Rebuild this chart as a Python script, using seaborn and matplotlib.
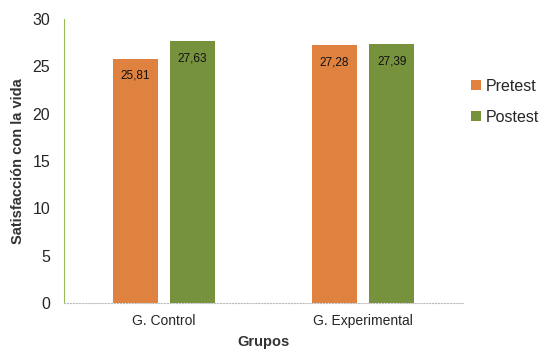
import pandas as pd
import numpy as np
import matplotlib
matplotlib.use('Agg')
import matplotlib.pyplot as plt
import seaborn as sns

grupos = ['G. Control', 'G. Experimental']
momentos = ['Pretest', 'Postest']
pretest = [25.81, 27.28]
postest = [27.63, 27.39]

df = pd.DataFrame({
    'Grupos': grupos * 2,
    'Momento': ['Pretest'] * 2 + ['Postest'] * 2,
    'valor': pretest + postest,
})

sns.set_style('white')
plt.rcParams['font.family'] = ['Liberation Sans', 'DejaVu Sans']

colores = {'Pretest': '#E0823F', 'Postest': '#76923C'}

fig = plt.figure(figsize=(5.59, 3.64), dpi=100)
ax = fig.add_axes([0.1145, 0.1676, 0.7135, 0.7804])
sns.barplot(data=df, x='Grupos', y='valor', hue='Momento', hue_order=momentos,
            palette=colores, width=0.572, gap=0.21, saturation=1,
            edgecolor='none', ax=ax)

# etiquetas dentro de las barras
for cont in ax.containers:
    for barra in cont:
        h = barra.get_height()
        ax.annotate(f'{h:.2f}'.replace('.', ','),
                    (barra.get_x() + barra.get_width() / 2, h),
                    xytext=(0, -12.5), textcoords='offset points',
                    ha='center', va='center', fontsize=8.5, color='#111111')

ax.set_xlim(-0.5, 1.5)
ax.set_ylim(0, 30)
ax.set_yticks(range(0, 31, 5))
ax.tick_params(axis='y', direction='in', length=4, color='#9BBB59',
               labelsize=11.5, pad=10)
ax.tick_params(axis='x', length=0, labelsize=10, pad=8)
for s in ['top', 'right']:
    ax.spines[s].set_visible(False)
ax.spines['left'].set_color('#9BBB59')
ax.spines['left'].set_linewidth(0.8)
ax.spines['bottom'].set_color('#BBBBBB')
ax.spines['bottom'].set_linestyle(':')
ax.spines['bottom'].set_linewidth(0.8)

ax.set_xlabel('Grupos', fontsize=10.5, fontweight='bold', color='#333333', labelpad=5)
ax.set_ylabel('Satisfacción con la vida', fontsize=10.5, fontweight='bold',
              color='#333333', labelpad=5)

ax.legend(loc='upper left', bbox_to_anchor=(0.985, 0.84), frameon=False,
          fontsize=11.5, handlelength=0.6, handleheight=0.6, handletextpad=0.3,
          labelspacing=1.0, title=None)

fig.savefig('out.png', dpi=100)
